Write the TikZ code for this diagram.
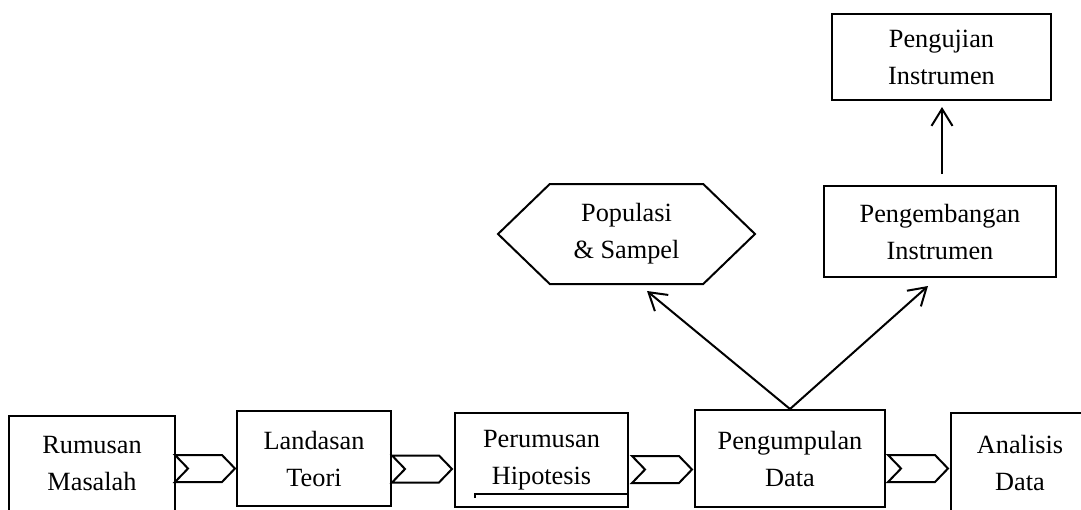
\documentclass[tikz,border=0pt]{standalone}
\usepackage{fontspec}
\setmainfont{Liberation Serif}
\usetikzlibrary{shapes.symbols,arrows.meta}

\tikzset{
  box/.style={draw, line width=2pt, rectangle, inner sep=0pt, align=center},
  chev/.style={draw, line width=2pt, signal, signal from=west, signal to=east,
    signal pointer angle=92, minimum width=60pt, minimum height=27pt, inner sep=0pt},
  hexa/.style={draw, line width=2pt, signal, signal to=west and east,
    signal pointer angle=88, inner sep=0pt, align=center},
  arr/.style={line width=2pt, -{Straight Barb[length=17pt,width=21pt]}},
}

\begin{document}
\begin{tikzpicture}[x=1pt, y=-1pt, font=\fontsize{26.3}{37}\selectfont]
\useasboundingbox (0,0) rectangle (1081,509);

%% MAIN FLOW
\node[box, minimum width=166pt, minimum height=96pt] (rumusan) at (92,464) {Rumusan\\Masalah};
\node[box, minimum width=154pt, minimum height=95pt] (landasan) at (314,458.5) {Landasan\\Teori};
\node[box, minimum width=173pt, minimum height=94pt] (perumusan) at (541.5,460) {Perumusan\\Hipotesis};
\node[box, minimum width=190pt, minimum height=97pt] (pengumpulan) at (790,458.5) {Pengumpulan\\Data};
\node[box, minimum width=138pt, minimum height=99pt] (analisis) at (1020,462.5) {Analisis\\Data};

\node[chev] (chev_rl) at (205,468.5) {};
\node[chev] (chev_lp) at (422,469) {};
\node[chev] (chev_pp) at (662,469.5) {};
\node[chev] (chev_pa) at (918,468.5) {};

% underline in hypothesis box
\draw[line width=1.2pt] ([xshift=21pt,yshift=10pt]perumusan.south west) -- ++(0,-4)
  -- ([yshift=14pt]perumusan.south east);

%% SAMPLE
\node[hexa, minimum width=257pt, minimum height=100pt] (populasi) at (626.5,234) {Populasi\\\& Sampel};

%% INSTRUMENT
\node[box, minimum width=232pt, minimum height=91pt] (pengembangan) at (940,231.5) {Pengembangan\\Instrumen};
\node[box, minimum width=219pt, minimum height=86pt] (pengujian) at (941.5,57) {Pengujian\\Instrumen};

\draw[arr] (pengumpulan.north) -- ([xshift=20.5pt,yshift=-6pt]populasi.south);
\draw[arr] (pengumpulan.north) -- ([xshift=-12pt,yshift=-8pt]pengembangan.south);
\draw[arr, shorten <=11pt, shorten >=6pt] ([xshift=2pt]pengembangan.north) -- ([xshift=0.5pt]pengujian.south);

\end{tikzpicture}
\end{document}
